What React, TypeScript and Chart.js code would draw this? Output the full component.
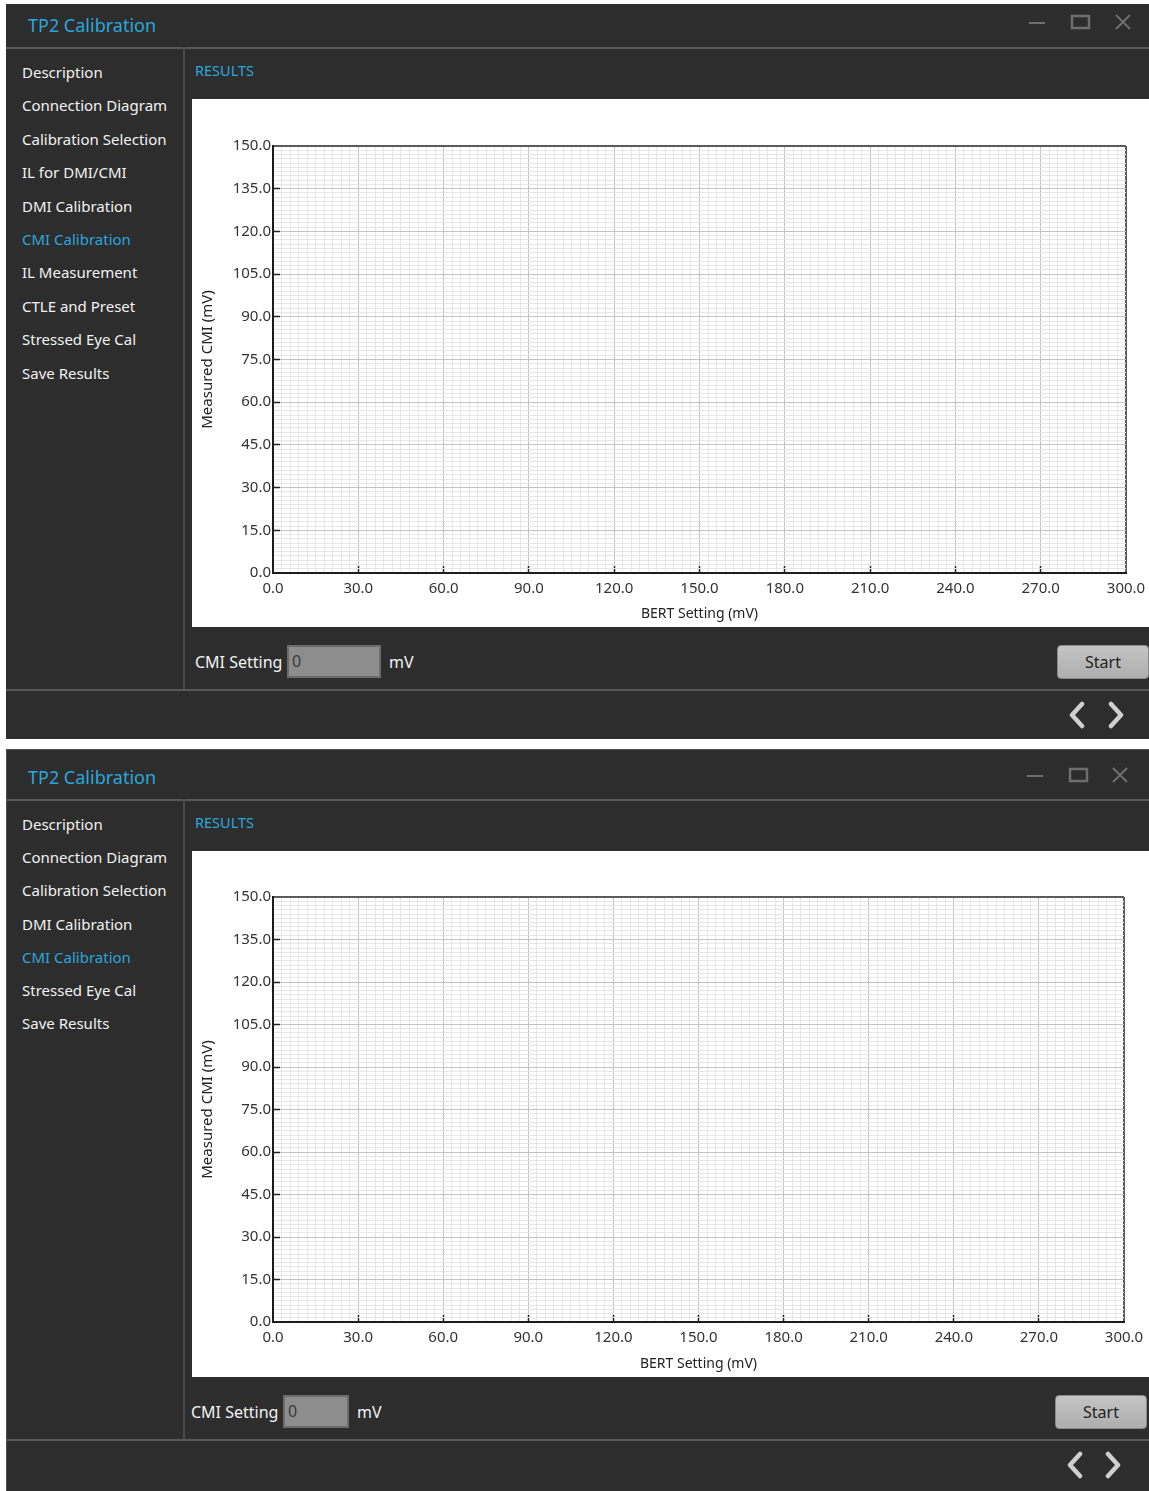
import React, { useEffect, useRef } from "react";
import { Chart, registerables } from "chart.js";

Chart.register(...registerables);

// ---------------- data ----------------
const xRange = [0, 300];
const yRange = [0, 150];
const xMajorStep = 30;
const xMinorStep = 3;
const yMajorStep = 15;
const yMinorStep = 1.5;
const xTickLabels = ["0.0", "30.0", "60.0", "90.0", "120.0", "150.0", "180.0", "210.0", "240.0", "270.0", "300.0"];
const yTickLabels = ["0.0", "15.0", "30.0", "45.0", "60.0", "75.0", "90.0", "105.0", "120.0", "135.0", "150.0"];
const bertSetting: number[] = []; // no measurements taken yet
const measuredCmi: number[] = []; // no measurements taken yet
const xAxisTitle = "BERT Setting (mV)";
const yAxisTitle = "Measured CMI (mV)";

const menuTop = [
  "Description",
  "Connection Diagram",
  "Calibration Selection",
  "IL for DMI/CMI",
  "DMI Calibration",
  "CMI Calibration",
  "IL Measurement",
  "CTLE and Preset",
  "Stressed Eye Cal",
  "Save Results",
];
const menuBottom = [
  "Description",
  "Connection Diagram",
  "Calibration Selection",
  "DMI Calibration",
  "CMI Calibration",
  "Stressed Eye Cal",
  "Save Results",
];

// ---------------- styles ----------------
const UI_FONT = "'Noto Sans', 'Open Sans', sans-serif";
const CYAN = "#2aa6dc";
const BG = "#2d2d2d";
const LINE = "#585858";

const isMajor = (v: number, step: number) => {
  const r = v / step;
  return Math.abs(r - Math.round(r)) < 1e-6;
};

function makeGrid(majorStep: number, max: number) {
  return {
    drawOnChartArea: true,
    drawTicks: true,
    tickLength: -7,
    tickWidth: 1.5,
    color: (c: any) => {
      const v = c.tick ? c.tick.value : 0;
      if (Math.abs(v - max) < 1e-6) return "#5c5c5c";
      return isMajor(v, majorStep) ? "#c2c2c2" : "#e6e6e6";
    },
    lineWidth: (c: any) => {
      const v = c.tick ? c.tick.value : 0;
      return Math.abs(v - max) < 1e-6 ? 2 : 1;
    },
    tickColor: (c: any) => {
      const v = c.tick ? c.tick.value : 0;
      return isMajor(v, majorStep) && v > 1e-6 && v < max - 1e-6 ? "#222" : "rgba(0,0,0,0)";
    },
  };
}

type ChartGeom = { w: number; h: number; padTop: number; padRight: number; yAxisWidth: number; xAxisHeight: number };

function CalibrationChart({ g }: { g: ChartGeom }) {
  const ref = useRef<HTMLCanvasElement>(null);
  useEffect(() => {
    const points = bertSetting.map((x, i) => ({ x, y: measuredCmi[i] }));
    const chart = new Chart(ref.current as HTMLCanvasElement, {
      type: "scatter",
      data: {
        datasets: [
          {
            label: "Measured CMI",
            data: points,
            borderColor: "#1f77b4",
            backgroundColor: "#1f77b4",
            showLine: true,
          },
        ],
      },
      options: {
        animation: false,
        responsive: false,
        maintainAspectRatio: false,
        layout: { padding: { top: g.padTop, right: g.padRight, left: 0, bottom: 0 } },
        plugins: { legend: { display: false }, tooltip: { enabled: false } },
        scales: {
          x: {
            type: "linear",
            min: xRange[0],
            max: xRange[1],
            afterFit: (s: any) => {
              s.height = g.xAxisHeight;
              s.paddingLeft = 0;
              s.paddingRight = 0;
            },
            ticks: {
              stepSize: xMinorStep,
              autoSkip: false,
              maxRotation: 0,
              minRotation: 0,
              padding: 14,
              color: "#333",
              font: { family: "'Noto Sans'", size: 15 },
              callback: (v: any) => (isMajor(Number(v), xMajorStep) ? xTickLabels[Math.round(Number(v) / xMajorStep)] : ""),
            },
            grid: makeGrid(xMajorStep, xRange[1]) as any,
            border: { display: true, color: "#1c1c1c", width: 2 },
            title: {
              display: true,
              text: xAxisTitle,
              color: "#222",
              font: { family: "'Noto Sans'", size: 14 },
              padding: { top: 0, bottom: 5 },
            },
          },
          y: {
            type: "linear",
            min: yRange[0],
            max: yRange[1],
            afterFit: (s: any) => {
              s.width = g.yAxisWidth;
            },
            ticks: {
              stepSize: yMinorStep,
              autoSkip: false,
              padding: 9,
              color: "#333",
              font: { family: "'Noto Sans'", size: 15 },
              callback: (v: any) => (isMajor(Number(v), yMajorStep) ? yTickLabels[Math.round(Number(v) / yMajorStep)] : ""),
            },
            grid: makeGrid(yMajorStep, yRange[1]) as any,
            border: { display: true, color: "#1c1c1c", width: 2 },
            title: {
              display: true,
              text: yAxisTitle,
              color: "#222",
              font: { family: "'Noto Sans'", size: 15 },
              padding: { top: 7, bottom: 0 },
            },
          },
        },
      } as any,
    });
    return () => chart.destroy();
  }, []);
  return <canvas ref={ref} width={g.w} height={g.h} style={{ display: "block", width: g.w, height: g.h }} />;
}

type WinSpec = {
  top: number;
  bottom: number;
  left: number;
  titleY: number;
  titleSep: number;
  iconsY: number;
  iconsX: number[];
  menu: string[];
  active: number;
  menuY0: number;
  menuStep: number;
  sideSepX: number;
  resultsY: number;
  panel: { x: number; y: number; w: number; h: number };
  plot: { left: number; right: number; top: number; bottom: number };
  rowY: number;
  labelX: number;
  inputX: number;
  inputW: number;
  inputTop: number;
  inputH: number;
  mvX: number;
  startX: number;
  startW: number;
  footerY: number;
  arrowsY: number;
  arrowsX: number[];
  edge: boolean;
};

const win1: WinSpec = {
  top: 4,
  bottom: 739,
  left: 6,
  titleY: 25,
  titleSep: 47,
  iconsY: 22,
  iconsX: [1037, 1080, 1123],
  menu: menuTop,
  active: 5,
  menuY0: 72,
  menuStep: 33.4,
  sideSepX: 183,
  resultsY: 70,
  panel: { x: 192, y: 99, w: 957, h: 528 },
  plot: { left: 273, right: 1126, top: 146, bottom: 573 },
  rowY: 662,
  labelX: 195,
  inputX: 287,
  inputW: 94,
  inputTop: 645,
  inputH: 33,
  mvX: 389,
  startX: 1057,
  startW: 92,
  footerY: 689,
  arrowsY: 715,
  arrowsX: [1077, 1116],
  edge: false,
};

const win2: WinSpec = {
  top: 749,
  bottom: 1491,
  left: 6,
  titleY: 777,
  titleSep: 799,
  iconsY: 775,
  iconsX: [1035, 1078, 1120],
  menu: menuBottom,
  active: 4,
  menuY0: 824,
  menuStep: 33.2,
  sideSepX: 183,
  resultsY: 822,
  panel: { x: 192, y: 851, w: 957, h: 526 },
  plot: { left: 273, right: 1124, top: 897, bottom: 1322 },
  rowY: 1412,
  labelX: 191,
  inputX: 283,
  inputW: 66,
  inputTop: 1395,
  inputH: 33,
  mvX: 357,
  startX: 1055,
  startW: 92,
  footerY: 1439,
  arrowsY: 1465,
  arrowsX: [1075, 1113],
  edge: true,
};

function Text({ x, y, children, color = "#f2f2f2", size = 15, h = 22 }: any) {
  return (
    <div
      style={{
        position: "absolute",
        left: x,
        top: y - h / 2,
        height: h,
        lineHeight: h + "px",
        fontSize: size,
        color,
        fontFamily: UI_FONT,
        whiteSpace: "nowrap",
      }}
    >
      {children}
    </div>
  );
}

function Window({ s }: { s: WinSpec }) {
  const W = 1149;
  const g: ChartGeom = {
    w: s.panel.w,
    h: s.panel.h,
    padTop: s.plot.top - s.panel.y,
    padRight: s.panel.x + s.panel.w - s.plot.right,
    yAxisWidth: s.plot.left - s.panel.x,
    xAxisHeight: s.panel.y + s.panel.h - s.plot.bottom,
  };
  const iconColor = "#6e6e6e";
  return (
    <>
      <div
        style={{
          position: "absolute",
          left: s.left,
          top: s.top,
          width: W - s.left,
          height: s.bottom - s.top,
          background: BG,
          boxSizing: "border-box",
          borderTop: s.edge ? "1px solid #4e4e4e" : "none",
          borderLeft: s.edge ? "1px solid #4e4e4e" : "none",
        }}
      />
      {/* title bar */}
      <Text x={28} y={s.titleY} color={CYAN} size={18} h={26}>
        TP2 Calibration
      </Text>
      <svg
        style={{ position: "absolute", left: 0, top: s.iconsY - 10, overflow: "visible" }}
        width={W}
        height={20}
      >
        <line x1={s.iconsX[0] - 8} y1={11} x2={s.iconsX[0] + 8} y2={11} stroke={iconColor} strokeWidth={2} />
        <rect x={s.iconsX[1] - 8} y={4} width={17} height={12} fill="none" stroke={iconColor} strokeWidth={2.5} />
        <line x1={s.iconsX[2] - 7} y1={3} x2={s.iconsX[2] + 7} y2={17} stroke={iconColor} strokeWidth={2} />
        <line x1={s.iconsX[2] + 7} y1={3} x2={s.iconsX[2] - 7} y2={17} stroke={iconColor} strokeWidth={2} />
      </svg>
      <div style={{ position: "absolute", left: s.left, top: s.titleSep, width: W - s.left, height: 2, background: LINE }} />
      {/* sidebar */}
      <div
        style={{
          position: "absolute",
          left: s.sideSepX,
          top: s.titleSep,
          width: 2,
          height: s.footerY - s.titleSep,
          background: "#4a4a4a",
        }}
      />
      {s.menu.map((m, i) => (
        <Text key={m} x={22} y={s.menuY0 + i * s.menuStep} color={i === s.active ? CYAN : "#f2f2f2"} size={15}>
          {m}
        </Text>
      ))}
      <Text x={195} y={s.resultsY} color={CYAN} size={14.5}>
        RESULTS
      </Text>
      {/* chart panel */}
      <div
        style={{
          position: "absolute",
          left: s.panel.x,
          top: s.panel.y,
          width: s.panel.w,
          height: s.panel.h,
          background: "#ffffff",
        }}
      >
        <CalibrationChart g={g} />
      </div>
      {/* settings row */}
      <Text x={s.labelX} y={s.rowY} size={16}>
        CMI Setting
      </Text>
      <div
        style={{
          position: "absolute",
          left: s.inputX,
          top: s.inputTop,
          width: s.inputW,
          height: s.inputH,
          boxSizing: "border-box",
          background: "#8d8d8d",
          border: "2px solid #6c6c6c",
          color: "#3a3a3a",
          fontFamily: UI_FONT,
          fontSize: 16,
          lineHeight: s.inputH - 4 + "px",
          paddingLeft: 3,
        }}
      >
        0
      </div>
      <Text x={s.mvX} y={s.rowY} size={16}>
        mV
      </Text>
      <div
        style={{
          position: "absolute",
          left: s.startX,
          top: s.inputTop,
          width: s.startW,
          height: s.inputH + 1,
          boxSizing: "border-box",
          background: "linear-gradient(#c4c4c4, #aeaeae)",
          border: "1px solid #8a8a8a",
          borderRadius: 4,
          color: "#222",
          fontFamily: UI_FONT,
          fontSize: 16,
          lineHeight: s.inputH - 1 + "px",
          textAlign: "center",
        }}
      >
        Start
      </div>
      {/* footer */}
      <div style={{ position: "absolute", left: s.left, top: s.footerY, width: W - s.left, height: 2, background: LINE }} />
      <svg style={{ position: "absolute", left: 0, top: s.arrowsY - 14 }} width={W} height={28}>
        <polyline
          points={`${s.arrowsX[0] + 5},3 ${s.arrowsX[0] - 5},14 ${s.arrowsX[0] + 5},25`}
          fill="none"
          stroke="#cfcfcf"
          strokeWidth={4.5}
          strokeLinecap="round"
          strokeLinejoin="round"
        />
        <polyline
          points={`${s.arrowsX[1] - 5},3 ${s.arrowsX[1] + 5},14 ${s.arrowsX[1] - 5},25`}
          fill="none"
          stroke="#cfcfcf"
          strokeWidth={4.5}
          strokeLinecap="round"
          strokeLinejoin="round"
        />
      </svg>
    </>
  );
}

export default function App() {
  return (
    <div
      style={{
        position: "absolute",
        left: 0,
        top: 0,
        width: 1149,
        height: 1491,
        background: "#ffffff",
        overflow: "hidden",
      }}
    >
      <Window s={win1} />
      <Window s={win2} />
    </div>
  );
}
